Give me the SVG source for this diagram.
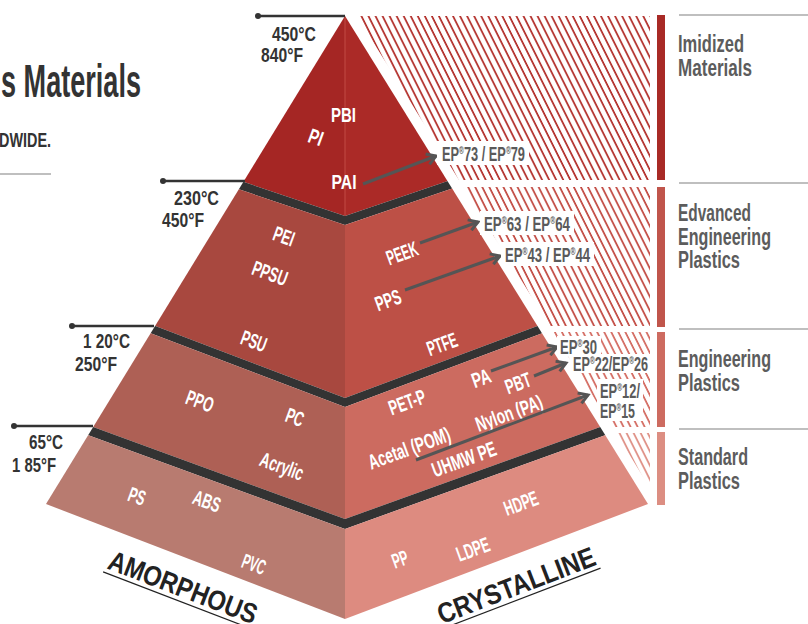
<svg xmlns="http://www.w3.org/2000/svg" width="808" height="624" viewBox="0 0 808 624">
<defs>
<style>
.w{font-family:"Liberation Sans",Arial,sans-serif;font-weight:bold;font-size:21px;fill:#fff;text-anchor:middle}
.t{font-family:"Liberation Sans",Arial,sans-serif;font-weight:bold;font-size:21px;fill:#333}
.ep{font-family:"Liberation Sans",Arial,sans-serif;font-weight:bold;font-size:19.5px;fill:#5a5a5a}
.sup{font-size:10px}
.cat{font-family:"Liberation Sans",Arial,sans-serif;font-weight:bold;font-size:23.5px;fill:#5c5c5c}
.big{font-family:"Liberation Sans",Arial,sans-serif;font-weight:bold;font-size:28px;fill:#222;text-anchor:middle}
.strip{fill:#333}
.arr{stroke:#555;stroke-width:3;fill:none;marker-end:url(#ah)}
.tl{stroke:#333;stroke-width:2.5}
.gl{stroke:#aaa;stroke-width:1.5}
.bg{fill:#fff}
</style>
<clipPath id="pyr"><polygon points="345,16 46,504 345,619 648,504"/></clipPath>
<pattern id="h1" patternUnits="userSpaceOnUse" width="6.3" height="20" patternTransform="rotate(-26.6)"><line x1="1" y1="-2" x2="1" y2="22" stroke="#b02824" stroke-width="1.7"/></pattern>
<pattern id="h2" patternUnits="userSpaceOnUse" width="6.3" height="20" patternTransform="rotate(-26.6)"><line x1="1" y1="-2" x2="1" y2="22" stroke="#c0443c" stroke-width="1.7"/></pattern>
<pattern id="h3" patternUnits="userSpaceOnUse" width="6.3" height="20" patternTransform="rotate(-26.6)"><line x1="1" y1="-2" x2="1" y2="22" stroke="#d2655b" stroke-width="1.7"/></pattern>
<pattern id="h4" patternUnits="userSpaceOnUse" width="6.3" height="20" patternTransform="rotate(-26.6)"><line x1="1" y1="-2" x2="1" y2="22" stroke="#dd8a7f" stroke-width="1.7"/></pattern>
<marker id="ah" markerUnits="userSpaceOnUse" markerWidth="14" markerHeight="14" refX="11" refY="7" orient="auto"><path d="M2,1.5 L11,7 L2,12.5" fill="none" stroke="#555" stroke-width="3"/></marker>
</defs>

<g id="title">
<text x="1" y="97" font-family="Liberation Sans, Arial, sans-serif" font-weight="bold" font-size="47" fill="#333" textLength="140" lengthAdjust="spacingAndGlyphs">s Materials</text>
<text x="-1" y="147" class="t" textLength="52" lengthAdjust="spacingAndGlyphs">DWIDE.</text>
<line x1="0" y1="174" x2="51" y2="174" class="gl"/>
</g>

<g id="hatch">
<polygon points="357,16 650,16 650,180 459,180" fill="url(#h1)"/>
<polygon points="463,187 650,187 650,326 550,326" fill="url(#h2)"/>
<polygon points="553,332 650,332 650,427 612,427" fill="url(#h3)"/>
<polygon points="616,433 650,433 650,488" fill="url(#h4)"/>
</g>

<g id="pyramid" clip-path="url(#pyr)">
<g id="band-imidized">
<polygon points="0,0 345,0 345,216 0,100" fill="#a52624"/>
<polygon points="345,0 808,0 808,58 345,216" fill="#ab2a27"/>
<line x1="345" y1="16" x2="345" y2="216" stroke="#c24a45" stroke-width="1"/>
</g>
<polygon class="strip" points="0,100 345,216 808,58 808,67 345,225 0,109"/>
<g id="band-advanced">
<polygon points="0,109 345,225 345,398 0,267" fill="#a8483f"/>
<polygon points="345,225 808,67 808,225 345,398" fill="#bd5046"/>
</g>
<polygon class="strip" points="0,267 345,398 808,225 808,234 345,407 0,276"/>
<g id="band-engineering">
<polygon points="0,276 345,407 345,519 0,393" fill="#ae6055"/>
<polygon points="345,407 808,234 808,352 345,519" fill="#cc6b60"/>
</g>
<polygon class="strip" points="0,393 345,519 808,352 808,362 345,529 0,403"/>
<g id="band-standard">
<polygon points="0,403 345,529 345,624 0,624" fill="#b87b70"/>
<polygon points="345,529 808,362 808,624 345,624" fill="#dd8b80"/>
</g>
</g>

<g id="temperatures">
<g id="t450"><line x1="258" y1="16" x2="345" y2="16" class="tl"/><circle cx="258" cy="16" r="3" fill="#333"/>
<text class="t" x="272" y="41" textLength="44" lengthAdjust="spacingAndGlyphs">450°C</text>
<text class="t" x="261" y="62" textLength="42" lengthAdjust="spacingAndGlyphs">840°F</text></g>
<g id="t230"><line x1="163" y1="181" x2="245" y2="181" class="tl"/><circle cx="163" cy="181" r="3" fill="#333"/>
<text class="t" x="174" y="205" textLength="45" lengthAdjust="spacingAndGlyphs">230°C</text>
<text class="t" x="162" y="227" textLength="42" lengthAdjust="spacingAndGlyphs">450°F</text></g>
<g id="t120"><line x1="72" y1="326" x2="154" y2="326" class="tl"/><circle cx="72" cy="326" r="3" fill="#333"/>
<text class="t" x="83" y="348" textLength="47" lengthAdjust="spacingAndGlyphs">1 20°C</text>
<text class="t" x="75" y="371" textLength="42" lengthAdjust="spacingAndGlyphs">250°F</text></g>
<g id="t65"><line x1="14" y1="426" x2="93" y2="426" class="tl"/><circle cx="14" cy="426" r="3" fill="#333"/>
<text class="t" x="29" y="449" textLength="34" lengthAdjust="spacingAndGlyphs">65°C</text>
<text class="t" x="12" y="472" textLength="44" lengthAdjust="spacingAndGlyphs">1 85°F</text></g>
</g>

<g id="materials">
<text class="w" x="343.5" y="122" textLength="25" lengthAdjust="spacingAndGlyphs">PBI</text>
<text class="w" transform="translate(316,137) rotate(20)" y="7.5" textLength="14" lengthAdjust="spacingAndGlyphs">PI</text>
<text class="w" x="344" y="189" textLength="25" lengthAdjust="spacingAndGlyphs">PAI</text>
<text class="w" transform="translate(284,236) rotate(20)" y="7.5" textLength="21" lengthAdjust="spacingAndGlyphs">PEI</text>
<text class="w" transform="translate(270,273) rotate(20)" y="7.5" textLength="36" lengthAdjust="spacingAndGlyphs">PPSU</text>
<text class="w" transform="translate(254,341) rotate(20)" y="7.5" textLength="26" lengthAdjust="spacingAndGlyphs">PSU</text>
<text class="w" transform="translate(402,253) rotate(-20)" y="7.5" textLength="32" lengthAdjust="spacingAndGlyphs">PEEK</text>
<text class="w" transform="translate(388,300) rotate(-20)" y="7.5" textLength="26" lengthAdjust="spacingAndGlyphs">PPS</text>
<text class="w" transform="translate(442,344) rotate(-20)" y="7.5" textLength="31" lengthAdjust="spacingAndGlyphs">PTFE</text>
<text class="w" transform="translate(200,401) rotate(20)" y="7.5" textLength="28" lengthAdjust="spacingAndGlyphs">PPO</text>
<text class="w" transform="translate(295,417) rotate(20)" y="7.5" textLength="18" lengthAdjust="spacingAndGlyphs">PC</text>
<text class="w" transform="translate(282,466) rotate(20)" y="7.5" textLength="45" lengthAdjust="spacingAndGlyphs">Acrylic</text>
<text class="w" transform="translate(481,378) rotate(-20)" y="7.5" textLength="19" lengthAdjust="spacingAndGlyphs">PA</text>
<text class="w" transform="translate(518,383) rotate(-20)" y="7.5" textLength="26" lengthAdjust="spacingAndGlyphs">PBT</text>
<text class="w" transform="translate(407,402) rotate(-20)" y="7.5" textLength="38" lengthAdjust="spacingAndGlyphs">PET-P</text>
<text class="w" transform="translate(409,448) rotate(-20)" y="7.5" textLength="86" lengthAdjust="spacingAndGlyphs">Acetal (POM)</text>
<text class="w" transform="translate(509,413) rotate(-20)" y="7.5" textLength="70" lengthAdjust="spacingAndGlyphs">Nylon (PA)</text>
<text class="w" transform="translate(464,459) rotate(-20)" y="7.5" textLength="67" lengthAdjust="spacingAndGlyphs">UHMW PE</text>
<text class="w" transform="translate(137,496) rotate(20)" y="7.5" textLength="17" lengthAdjust="spacingAndGlyphs">PS</text>
<text class="w" transform="translate(207,501) rotate(20)" y="7.5" textLength="28" lengthAdjust="spacingAndGlyphs">ABS</text>
<text class="w" transform="translate(254,564) rotate(20)" y="7.5" textLength="24" lengthAdjust="spacingAndGlyphs">PVC</text>
<text class="w" transform="translate(400,559) rotate(-20)" y="7.5" textLength="16" lengthAdjust="spacingAndGlyphs">PP</text>
<text class="w" transform="translate(473,549) rotate(-20)" y="7.5" textLength="34" lengthAdjust="spacingAndGlyphs">LDPE</text>
<text class="w" transform="translate(521,503) rotate(-20)" y="7.5" textLength="35" lengthAdjust="spacingAndGlyphs">HDPE</text>
</g>

<g id="connectors">
<line class="arr" x1="363" y1="184" x2="436" y2="156"/>
<line class="arr" x1="420" y1="243" x2="478" y2="222"/>
<line class="arr" x1="405" y1="290" x2="500" y2="256"/>
<line class="arr" x1="491" y1="371" x2="557" y2="347"/>
<line class="arr" x1="534" y1="376" x2="566" y2="363"/>
<line class="arr" x1="416" y1="460" x2="588" y2="395"/>
</g>

<g id="ep-labels">
<g id="ep73"><rect class="bg" x="437" y="141" width="92" height="24"/><text class="ep" x="442" y="161" textLength="83" lengthAdjust="spacingAndGlyphs">EP<tspan class="sup" dy="-7">®</tspan><tspan dy="7">73 / EP</tspan><tspan class="sup" dy="-7">®</tspan><tspan dy="7">79</tspan></text></g>
<g id="ep63"><rect class="bg" x="480" y="211" width="94" height="24"/><text class="ep" x="484" y="231" textLength="86" lengthAdjust="spacingAndGlyphs">EP<tspan class="sup" dy="-7">®</tspan><tspan dy="7">63 / EP</tspan><tspan class="sup" dy="-7">®</tspan><tspan dy="7">64</tspan></text></g>
<g id="ep43"><rect class="bg" x="501" y="242" width="93" height="24"/><text class="ep" x="505" y="262" textLength="85" lengthAdjust="spacingAndGlyphs">EP<tspan class="sup" dy="-7">®</tspan><tspan dy="7">43 / EP</tspan><tspan class="sup" dy="-7">®</tspan><tspan dy="7">44</tspan></text></g>
<g id="ep30"><rect class="bg" x="557" y="336" width="44" height="20"/><text class="ep" x="560" y="354" textLength="37" lengthAdjust="spacingAndGlyphs">EP<tspan class="sup" dy="-7">®</tspan><tspan dy="7">30</tspan></text></g>
<g id="ep22"><rect class="bg" x="570" y="354" width="83" height="19"/><text class="ep" x="573" y="371" textLength="75" lengthAdjust="spacingAndGlyphs">EP<tspan class="sup" dy="-7">®</tspan><tspan dy="7">22/EP</tspan><tspan class="sup" dy="-7">®</tspan><tspan dy="7">26</tspan></text></g>
<g id="ep12"><rect class="bg" x="597" y="379" width="46" height="42"/><text class="ep" x="600" y="398" textLength="40" lengthAdjust="spacingAndGlyphs">EP<tspan class="sup" dy="-7">®</tspan><tspan dy="7">12/</tspan></text><text class="ep" x="600" y="418" textLength="35" lengthAdjust="spacingAndGlyphs">EP<tspan class="sup" dy="-7">®</tspan><tspan dy="7">15</tspan></text></g>
</g>

<g id="legend">
<g id="cat-imidized"><rect x="657" y="15" width="8" height="165" fill="#a82a26"/><line x1="679" y1="15" x2="808" y2="15" class="gl"/>
<text class="cat" x="678" y="52" textLength="66" lengthAdjust="spacingAndGlyphs">Imidized</text>
<text class="cat" x="678" y="76" textLength="74" lengthAdjust="spacingAndGlyphs">Materials</text></g>
<g id="cat-advanced"><rect x="657" y="187" width="8" height="140" fill="#c0554b"/><line x1="679" y1="183" x2="808" y2="183" class="gl"/>
<text class="cat" x="678" y="221" textLength="73" lengthAdjust="spacingAndGlyphs">Edvanced</text>
<text class="cat" x="678" y="245" textLength="93" lengthAdjust="spacingAndGlyphs">Engineering</text>
<text class="cat" x="678" y="268" textLength="62" lengthAdjust="spacingAndGlyphs">Plastics</text></g>
<g id="cat-engineering"><rect x="657" y="332" width="8" height="95" fill="#cd6b60"/><line x1="679" y1="329" x2="808" y2="329" class="gl"/>
<text class="cat" x="678" y="367" textLength="93" lengthAdjust="spacingAndGlyphs">Engineering</text>
<text class="cat" x="678" y="391" textLength="62" lengthAdjust="spacingAndGlyphs">Plastics</text></g>
<g id="cat-standard"><rect x="657" y="432" width="8" height="73" fill="#dc8e82"/><line x1="679" y1="429" x2="808" y2="429" class="gl"/>
<text class="cat" x="678" y="465" textLength="70" lengthAdjust="spacingAndGlyphs">Standard</text>
<text class="cat" x="678" y="489" textLength="62" lengthAdjust="spacingAndGlyphs">Plastics</text></g>
</g>

<g id="axis-labels">
<g id="amorphous" transform="translate(183,587) rotate(21)"><text class="big" y="10" textLength="157" lengthAdjust="spacingAndGlyphs">AMORPHOUS</text><line x1="-80" y1="14.5" x2="80" y2="14.5" stroke="#222" stroke-width="1.2"/></g>
<g id="crystalline" transform="translate(516,585) rotate(-21)"><text class="big" y="10" textLength="167" lengthAdjust="spacingAndGlyphs">CRYSTALLINE</text><line x1="-85" y1="14.5" x2="85" y2="14.5" stroke="#222" stroke-width="1.2"/></g>
</g>
</svg>
